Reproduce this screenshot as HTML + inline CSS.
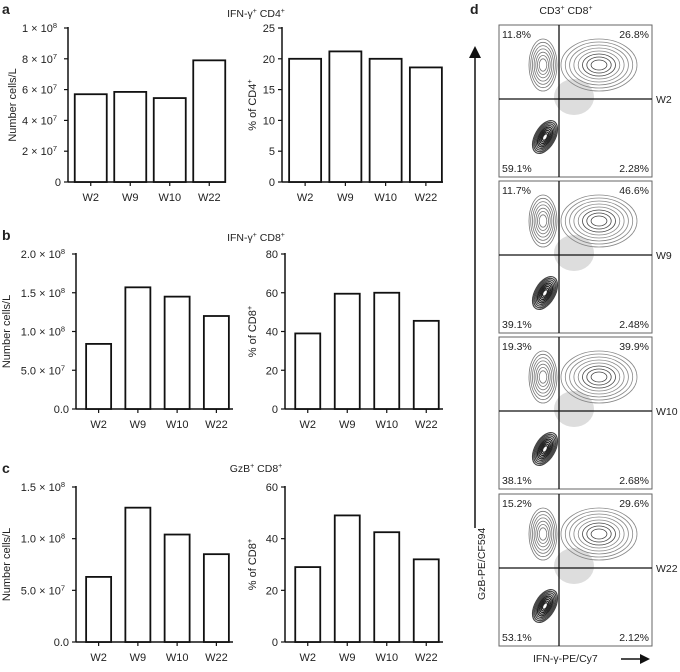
<!DOCTYPE html>
<html><head><meta charset="utf-8"><style>
body{margin:0;background:#fff;font-family:"Liberation Sans",Arial,sans-serif}
svg text{font-family:"Liberation Sans",Arial,sans-serif;fill:#222}
</style></head><body>
<svg id="fig" width="680" height="667" viewBox="0 0 680 667" xmlns="http://www.w3.org/2000/svg">
<text x="2" y="14" font-size="14" font-weight="bold">a</text>
<text x="2" y="240" font-size="14" font-weight="bold">b</text>
<text x="2" y="473" font-size="14" font-weight="bold">c</text>
<text x="470" y="14" font-size="14" font-weight="bold">d</text>
<text x="256" y="17" font-size="10.5" text-anchor="middle">IFN-γ<tspan font-size="7" dy="-4">+</tspan><tspan dy="4"> CD4</tspan><tspan font-size="7" dy="-4">+</tspan></text>
<text x="256" y="241" font-size="10.5" text-anchor="middle">IFN-γ<tspan font-size="7" dy="-4">+</tspan><tspan dy="4"> CD8</tspan><tspan font-size="7" dy="-4">+</tspan></text>
<text x="256" y="472" font-size="10.5" text-anchor="middle">GzB<tspan font-size="7" dy="-4">+</tspan><tspan dy="4"> CD8</tspan><tspan font-size="7" dy="-4">+</tspan></text>
<text x="566" y="14" font-size="10.5" text-anchor="middle">CD3<tspan font-size="7" dy="-4">+</tspan><tspan dy="4"> CD8</tspan><tspan font-size="7" dy="-4">+</tspan></text>
<g id="charts"></g>
<g id="flow"></g>
<line x1="475" y1="56" x2="475" y2="528" stroke="#111" stroke-width="1.5"/>
<polygon points="469,58 481,58 475,46" fill="#111"/>
<text transform="translate(485,600) rotate(-90)" font-size="10.5">GzB-PE/CF594</text>
<text x="533" y="662" font-size="10.5">IFN-γ-PE/Cy7</text>
<line x1="621" y1="659" x2="642" y2="659" stroke="#111" stroke-width="1.5"/>
<polygon points="640,654 640,664 650,659" fill="#111"/>
</svg>
<script>
const categories=["W2","W9","W10","W22"];
const aCount=[5.7e7,5.85e7,5.45e7,7.9e7];
const aPct=[20,21.2,20,18.6];
const bCount=[0.84e8,1.57e8,1.45e8,1.2e8];
const bPct=[39,59.5,60,45.5];
const cCount=[0.63e8,1.3e8,1.04e8,0.85e8];
const cPct=[29,49,42.5,32];
const aCountTicks=["0","2 × 10^7","4 × 10^7","6 × 10^7","8 × 10^7","1 × 10^8"];
const aPctTicks=["0","5","10","15","20","25"];
const bCountTicks=["0.0","5.0 × 10^7","1.0 × 10^8","1.5 × 10^8","2.0 × 10^8"];
const bPctTicks=["0","20","40","60","80"];
const cCountTicks=["0.0","5.0 × 10^7","1.0 × 10^8","1.5 × 10^8"];
const cPctTicks=["0","20","40","60"];
const flowSamples=["W2","W9","W10","W22"];
const flowUL=["11.8%","11.7%","19.3%","15.2%"];
const flowUR=["26.8%","46.6%","39.9%","29.6%"];
const flowLL=["59.1%","39.1%","38.1%","53.1%"];
const flowLR=["2.28%","2.48%","2.68%","2.12%"];

const NS="http://www.w3.org/2000/svg";
function mk(tag,attrs,parent){const e=document.createElementNS(NS,tag);for(const k in attrs)e.setAttribute(k,attrs[k]);parent.appendChild(e);return e;}
const charts=document.getElementById('charts');
function tickText(g,x,y,s){
  const t=mk('text',{x:x,y:y,'font-size':11,'text-anchor':'end'},g);
  const p=s.split('^');
  if(p.length===1){t.textContent=s;return t;}
  t.appendChild(document.createTextNode(p[0]));
  const sp=mk('tspan',{'font-size':7.5,dy:-4},t);sp.textContent=p[1];
  return t;
}
function chart(name,x0,xEnd,yTop,yBot,maxV,ticks,vals,ylab,ylabSup,bw,lx){
  const g=mk('g',{},charts);
  
  
  const sy=v=>yBot-(v/maxV)*(yBot-yTop);
  const ax=mk('line',{x1:x0,y1:yTop-1,x2:x0,y2:yBot,stroke:'#111','stroke-width':1.5},g);
  
  
  const bx=mk('line',{x1:x0,y1:yBot,x2:xEnd,y2:yBot,stroke:'#111','stroke-width':1.5},g);
  
  
  ticks.forEach((t,i)=>{
    const v=i*maxV/(ticks.length-1),y=sy(v);
    mk('line',{x1:x0-4,y1:y,x2:x0,y2:y,stroke:'#111','stroke-width':1.2},g);
    const tt=tickText(g,x0-(t.includes('^')?11:7),y+4,t);
    
    
  });
  const step=(xEnd-x0)/4;
  vals.forEach((v,i)=>{
    const cx=x0+step*(i+0.5)+3;
    const r=mk('rect',{x:cx-bw/2,y:sy(v),width:bw,height:yBot-sy(v),fill:'#fff',stroke:'#111','stroke-width':1.8},g);
    
    
    mk('line',{x1:cx,y1:yBot,x2:cx,y2:yBot+4,stroke:'#111','stroke-width':1.2},g);
    const l=mk('text',{x:cx,y:yBot+19,'font-size':11,'text-anchor':'middle'},g);
    l.textContent=categories[i];
    
    
  });
  const ly=(yTop+yBot)/2;
  const yl=mk('text',{transform:`translate(${lx},${ly}) rotate(-90)`,'font-size':11,'text-anchor':'middle'},g);
  
  
  yl.appendChild(document.createTextNode(ylab));
  if(ylabSup){const s=mk('tspan',{'font-size':7.5,dy:-4},yl);s.textContent='+';}
}
chart('chart-a-count',68,226,28,182,1e8,aCountTicks,aCount,'Number cells/L',false,32,16);
chart('chart-a-pct',282,443,28,182,25,aPctTicks,aPct,'% of CD4',true,32,256);
chart('chart-b-count',76,233,254,409,2e8,bCountTicks,bCount,'Number cells/L',false,25,10);
chart('chart-b-pct',285,443,254,409,80,bPctTicks,bPct,'% of CD8',true,25,256);
chart('chart-c-count',76,233,487,642,1.5e8,cCountTicks,cCount,'Number cells/L',false,25,10);
chart('chart-c-pct',285,443,487,642,60,cPctTicks,cPct,'% of CD8',true,25,256);

const flow=document.getElementById('flow');
const tops=[25,181,337,494];
flowSamples.forEach((s,i)=>{
  const g=mk('g',{},flow);
  
  
  const x0=499,w=153,y0=tops[i],h=152,hy=y0+74,vx=559;
  mk('rect',{x:x0,y:y0,width:w,height:h,fill:'#fff',stroke:'#666','stroke-width':1},g);
  mk('ellipse',{cx:x0+75,cy:y0+72,rx:20,ry:18,fill:'#bbb',opacity:0.5},g);
  for(let k=0;k<9;k++){
    mk('ellipse',{cx:x0+46,cy:y0+112,rx:18-k*1.8,ry:10-k*1,transform:`rotate(-60 ${x0+46} ${y0+112})`,fill:'none',stroke:k>3?'#222':'#444','stroke-width':1.2},g);
  }
  for(let k=0;k<7;k++){
    mk('ellipse',{cx:x0+44,cy:y0+40,rx:14-k*1.7,ry:26-k*3.3,fill:'none',stroke:'#777','stroke-width':0.8},g);
  }
  for(let k=0;k<8;k++){
    mk('ellipse',{cx:x0+100,cy:y0+40,rx:38-k*4.3,ry:26-k*3,fill:'none',stroke:k>4?'#444':'#888','stroke-width':0.8},g);
  }
  mk('line',{x1:x0,y1:hy,x2:x0+w,y2:hy,stroke:'#111','stroke-width':1.3},g);
  mk('line',{x1:vx,y1:y0,x2:vx,y2:y0+h,stroke:'#111','stroke-width':1.3},g);
  const tl=[[x0+3,y0+13,'start',flowUL[i],'quadrant-ul'],[x0+w-3,y0+13,'end',flowUR[i],'quadrant-ur'],[x0+3,y0+h-5,'start',flowLL[i],'quadrant-ll'],[x0+w-3,y0+h-5,'end',flowLR[i],'quadrant-lr']];
  tl.forEach(q=>{const t=mk('text',{x:q[0],y:q[1],'font-size':10.5,'text-anchor':q[2]},g);t.textContent=q[3];
    
    });
  const sl=mk('text',{x:656,y:hy+4,'font-size':10.5},g);sl.textContent=s;
  
  
});
</script>
</body></html>
